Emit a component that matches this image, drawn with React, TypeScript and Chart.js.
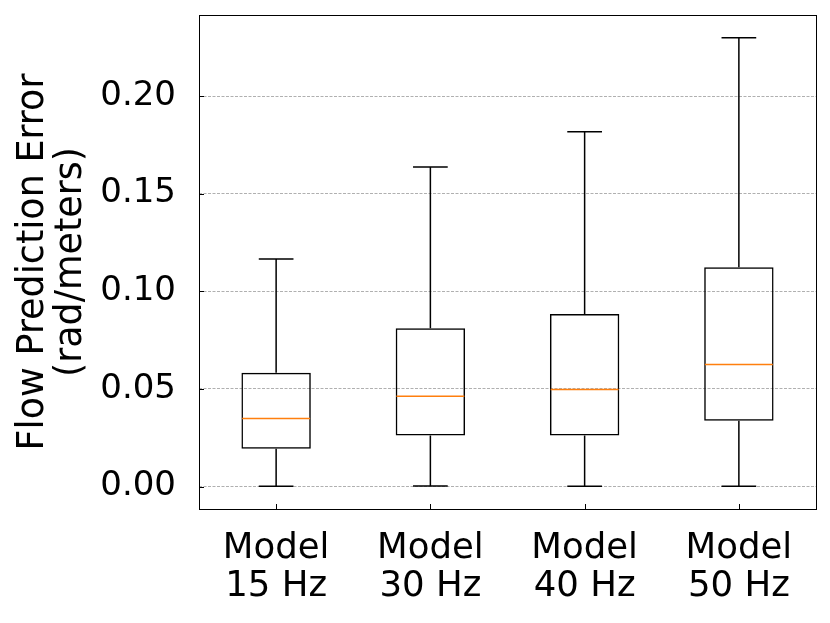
import React, { useEffect, useRef } from "react";
import { Chart, registerables } from "chart.js";

Chart.register(...registerables);

const categories: string[][] = [
  ["Model", "15 Hz"],
  ["Model", "30 Hz"],
  ["Model", "40 Hz"],
  ["Model", "50 Hz"],
];
const whiskerLow: number[] = [0.0002, 0.0003, 0.0002, 0.0002];
const q1: number[] = [0.0194, 0.0261, 0.0262, 0.0337];
const median: number[] = [0.0349, 0.0463, 0.0497, 0.0625];
const q3: number[] = [0.0583, 0.0811, 0.0884, 0.1123];
const whiskerHigh: number[] = [0.1166, 0.1636, 0.1817, 0.2299];
const yTicks: number[] = [0, 0.05, 0.1, 0.15, 0.2];

const FONT = "'DejaVu Sans', sans-serif";
const BOX_WIDTH = 0.45;

const boxPlugin = {
  id: "boxWhiskers",
  beforeDatasetsDraw(chart: any) {
    const { ctx, chartArea } = chart;
    const x = chart.scales.x;
    const y = chart.scales.y;
    ctx.save();
    ctx.strokeStyle = "#000";
    ctx.lineWidth = 1;
    yTicks.forEach((v) => {
      const py = Math.round(y.getPixelForValue(v)) + 0.5;
      ctx.beginPath();
      ctx.moveTo(chartArea.left, py);
      ctx.lineTo(chartArea.left + 5, py);
      ctx.stroke();
    });
    categories.forEach((_, i) => {
      const px = Math.round(x.getPixelForValue(i)) + 0.5;
      ctx.beginPath();
      ctx.moveTo(px, chartArea.bottom);
      ctx.lineTo(px, chartArea.bottom - 5);
      ctx.stroke();
    });
    ctx.restore();
  },
  afterDatasetsDraw(chart: any) {
    const { ctx, chartArea } = chart;
    const x = chart.scales.x;
    const y = chart.scales.y;
    const step = x.getPixelForValue(1) - x.getPixelForValue(0);
    const capHalf = (step * BOX_WIDTH) / 4;
    const boxHalf = (step * BOX_WIDTH) / 2;
    ctx.save();
    ctx.lineWidth = 1.5;
    ctx.strokeStyle = "#000";
    categories.forEach((_, i) => {
      const cx = x.getPixelForValue(i);
      const yLo = y.getPixelForValue(whiskerLow[i]);
      const yQ1 = y.getPixelForValue(q1[i]);
      const yQ3 = y.getPixelForValue(q3[i]);
      const yHi = y.getPixelForValue(whiskerHigh[i]);
      ctx.beginPath();
      ctx.moveTo(cx, yQ1);
      ctx.lineTo(cx, yLo);
      ctx.moveTo(cx - capHalf, yLo);
      ctx.lineTo(cx + capHalf, yLo);
      ctx.moveTo(cx, yQ3);
      ctx.lineTo(cx, yHi);
      ctx.moveTo(cx - capHalf, yHi);
      ctx.lineTo(cx + capHalf, yHi);
      ctx.stroke();
    });
    ctx.strokeStyle = "#ff7f0e";
    categories.forEach((_, i) => {
      const cx = x.getPixelForValue(i);
      const ym = y.getPixelForValue(median[i]);
      ctx.beginPath();
      ctx.moveTo(cx - boxHalf + 0.75, ym);
      ctx.lineTo(cx + boxHalf - 0.75, ym);
      ctx.stroke();
    });
    ctx.strokeStyle = "#000";
    ctx.lineWidth = 1;
    ctx.strokeRect(
      Math.round(chartArea.left) + 0.5,
      Math.round(chartArea.top) + 0.5,
      Math.round(chartArea.right - chartArea.left),
      Math.round(chartArea.bottom - chartArea.top)
    );
    ctx.restore();
  },
};

export default function App() {
  const ref = useRef<HTMLCanvasElement | null>(null);
  useEffect(() => {
    if (!ref.current) return;
    const chart = new Chart(ref.current, {
      type: "bar",
      data: {
        labels: categories as any,
        datasets: [
          {
            data: q1.map((v, i) => [v, q3[i]]) as any,
            backgroundColor: "rgba(0,0,0,0)",
            borderColor: "#000",
            borderWidth: 1.5,
            borderSkipped: false,
            barPercentage: BOX_WIDTH,
            categoryPercentage: 1,
          },
        ],
      },
      options: {
        responsive: false,
        animation: false,
        devicePixelRatio: 1,
        layout: { padding: { top: 15, right: 14, left: 0, bottom: 0 } },
        plugins: {
          legend: { display: false },
          tooltip: { enabled: false },
        },
        scales: {
          x: {
            type: "category",
            offset: true,
            grid: { display: false, drawTicks: false },
            border: { display: false },
            ticks: {
              color: "#000",
              padding: 21,
              maxRotation: 0,
              autoSkip: false,
              font: { family: FONT, size: 35.5, lineHeight: 1.07 },
            },
            afterFit: (s: any) => {
              s.height = 114;
              s.paddingLeft = 0;
              s.paddingRight = 0;
            },
          },
          y: {
            type: "linear",
            min: -0.0115,
            max: 0.2415,
            afterBuildTicks: (s: any) => {
              s.ticks = yTicks.map((v) => ({ value: v }));
            },
            grid: {
              color: "#b0b0b0",
              lineWidth: 1,
              drawTicks: false,
            },
            border: { display: false, dash: [3, 1.5] },
            ticks: {
              color: "#000",
              padding: 23,
              font: { family: FONT, size: 34 },
              callback: (v: any) => Number(v).toFixed(2),
            },
            title: {
              display: true,
              text: ["Flow Prediction Error", "(rad/meters)"],
              color: "#000",
              font: { family: FONT, size: 36.5, lineHeight: 1.05 },
              padding: { top: 14, bottom: 0 },
            },
            afterFit: (s: any) => {
              s.width = 199;
              s.paddingTop = 0;
              s.paddingBottom = 0;
            },
          },
        },
      },
      plugins: [boxPlugin],
    });
    return () => chart.destroy();
  }, []);
  return (
    <div style={{ position: "fixed", left: 0, top: 0, width: 830, height: 623, background: "#fff" }}>
      <canvas ref={ref} width={830} height={623} style={{ display: "block" }} />
    </div>
  );
}
